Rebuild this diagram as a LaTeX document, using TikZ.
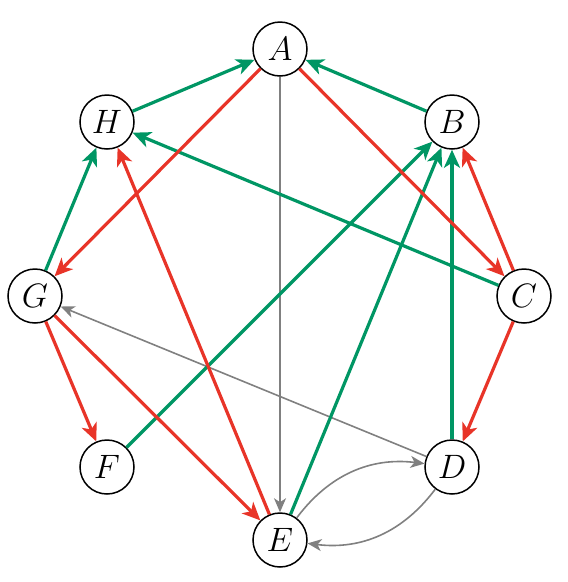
\documentclass[tikz,border=0pt]{standalone}
\usetikzlibrary{arrows.meta}
\definecolor{grn}{RGB}{0,150,100}
\definecolor{rd}{RGB}{232,52,40}
\definecolor{gr}{RGB}{128,128,128}
\newcommand{\vlab}[1]{\scalebox{1.36}{$#1$}}
\begin{document}
\begin{tikzpicture}[x=1pt,y=-1pt,
  vtx/.style={circle,draw,line width=1.5pt,minimum size=54pt,inner sep=0pt,fill=white,font=\Huge},
  ge/.style={draw=grn,line width=3.2pt,-{Stealth[length=18pt,width=16pt,inset=5pt]}},
  re/.style={draw=rd,line width=3.2pt,-{Stealth[length=18pt,width=16pt,inset=5pt]}},
  ye/.style={draw=gr,line width=1.6pt,-{Stealth[length=14pt,width=12pt,inset=4pt]}}]
\useasboundingbox (0,0) rectangle (568,582);
\node[vtx] (A) at (280,49) {\vlab{A}};
\node[vtx] (B) at (452,122) {\vlab{B}};
\node[vtx] (C) at (524,296) {\vlab{C}};
\node[vtx] (D) at (452,467) {\vlab{D}};
\node[vtx] (E) at (280,540) {\vlab{E}};
\node[vtx] (F) at (107,467) {\vlab{F}};
\node[vtx] (G) at (35,296) {\vlab{G}};
\node[vtx] (H) at (107,122) {\vlab{H}};
\draw[ye] (A) -- (E);
\draw[ye] (D) -- (G);
\draw[ye] (E) to[bend left=30] (D);
\draw[ye] (D) to[bend left=30] (E);
\draw[ge] (H) -- (A);
\draw[ge] (B) -- (A);
\draw[ge] (C) -- (H);
\draw[ge] (G) -- (H);
\draw[ge] (F) -- (B);
\draw[ge] (E) -- (B);
\draw[ge] (D) -- (B);
\draw[re] (A) -- (G);
\draw[re] (A) -- (C);
\draw[re] (C) -- (B);
\draw[re] (C) -- (D);
\draw[re] (G) -- (F);
\draw[re] (G) -- (E);
\draw[re] (E) -- (H);
\end{tikzpicture}
\end{document}
